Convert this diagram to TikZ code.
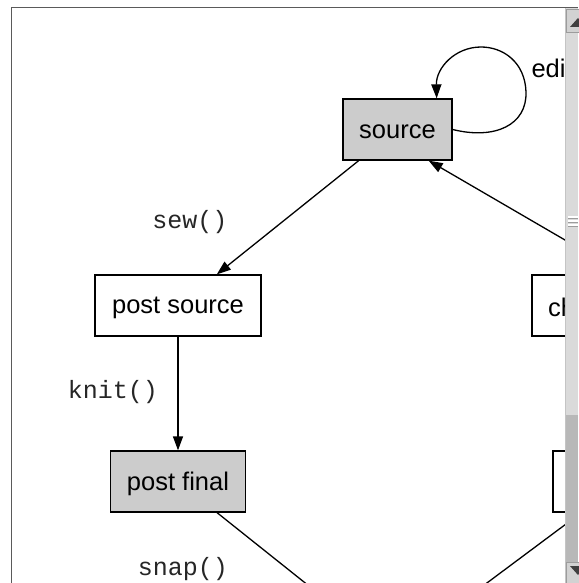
\documentclass[tikz,border=0pt]{standalone}
\usepackage{fontspec}
\setmainfont{Liberation Sans}
\newfontfamily\monofont{Liberation Mono}
\usetikzlibrary{arrows.meta,calc}
\definecolor{boxgray}{HTML}{CCCCCC}
\definecolor{framecol}{HTML}{5A5A5A}
\definecolor{sbthumb}{HTML}{DADADA}
\definecolor{sbdark}{HTML}{B8B8B8}
\definecolor{sbbtn}{HTML}{D2D2D2}
\definecolor{sbborder}{HTML}{9C9C9C}
\definecolor{sbedge}{HTML}{C4C4C4}
\newcommand\lowertxt[1]{\raisebox{-2pt}[\height][\depth]{#1}}
\begin{document}
\begin{tikzpicture}[x=1pt,y=-1pt,
  every node/.style={font=\fontsize{25.5}{30}\selectfont},
  box/.style={draw=black, line width=1.3pt, rectangle, inner sep=0pt, minimum height=61pt},
  graybox/.style={box, fill=boxgray},
  edgelbl/.style={font=\monofont\fontsize{25}{30}\selectfont, anchor=base, text=black!85},
  arr/.style={line width=1.3pt, -{Triangle[length=14pt,width=10pt]}},
  plain/.style={line width=1.3pt}]
\useasboundingbox (0,0) rectangle (578,583);
\fill[white] (0,0) rectangle (578,583);
\begin{scope}
\clip (12,8) rectangle (565,583);
% nodes
\node[graybox, minimum width=109pt] (source) at (397.5,129.5) {\lowertxt{source}};
\node[box, fill=white, minimum width=166pt] (psource) at (178,305.5) {\lowertxt{post source}};
\node[graybox, minimum width=135pt] (pfinal) at (178,481.5) {\lowertxt{post final}};
\node[box, fill=white, text width=152pt, inner xsep=16pt, align=left] (ch) at (624,305.5) {\lowertxt{ch}};
\node[box, fill=white, minimum width=140pt] (low) at (623,481.5) {};
\coordinate (bot) at (393,653);
% edges
\draw[arr] (source) -- (psource);
\draw[arr] (psource) -- (pfinal);
\draw[plain] (pfinal) -- (bot);
\draw[plain] (low) -- (bot);
\draw[arr] (ch.north) -- ($(source.south east)+(-24,0)$);
\draw[arr] (source.east) .. controls (495,140) and (527,125) .. (526,92)
  .. controls (525,62) and (503,47) .. (481,47)
  .. controls (455,47) and (436,68) .. ($(source.north east)+(-16,0)$);
% labels
\node[edgelbl] (sewl) at (190,228) {sew()};
\node[edgelbl] (knitl) at (113,398) {knit()};
\node[edgelbl] (snapl) at (183,575) {snap()};
\node[anchor=base west] (editl) at (528,78) {edi};
\end{scope}
% window frame
\draw[framecol, line width=1.5pt] (11.5,583) -- (11.5,7.5) -- (578,7.5);
% scrollbar
\fill[sbthumb] (565,8.5) rectangle (578,583);
\fill[sbdark] (565,415) rectangle (578,562);
\draw[sbedge, line width=1pt] (565.5,8.5) -- (565.5,583);
\filldraw[fill=sbbtn, draw=sbborder, line width=1pt] (566,9.5) rectangle (580,33);
\fill[black!75] (570,27) -- (578,18) -- (586,27) -- cycle;
\filldraw[fill=sbbtn, draw=sbborder, line width=1pt] (566,562) rectangle (580,586);
\fill[black!75] (570,566) -- (586,566) -- (578,575) -- cycle;
\foreach \yy in {217,221,225} {
  \draw[white, line width=1.2pt] (568,\yy) -- (578,\yy);
  \draw[sbborder, line width=0.8pt] (568,\yy+1.5) -- (578,\yy+1.5);
}
\end{tikzpicture}
\end{document}
